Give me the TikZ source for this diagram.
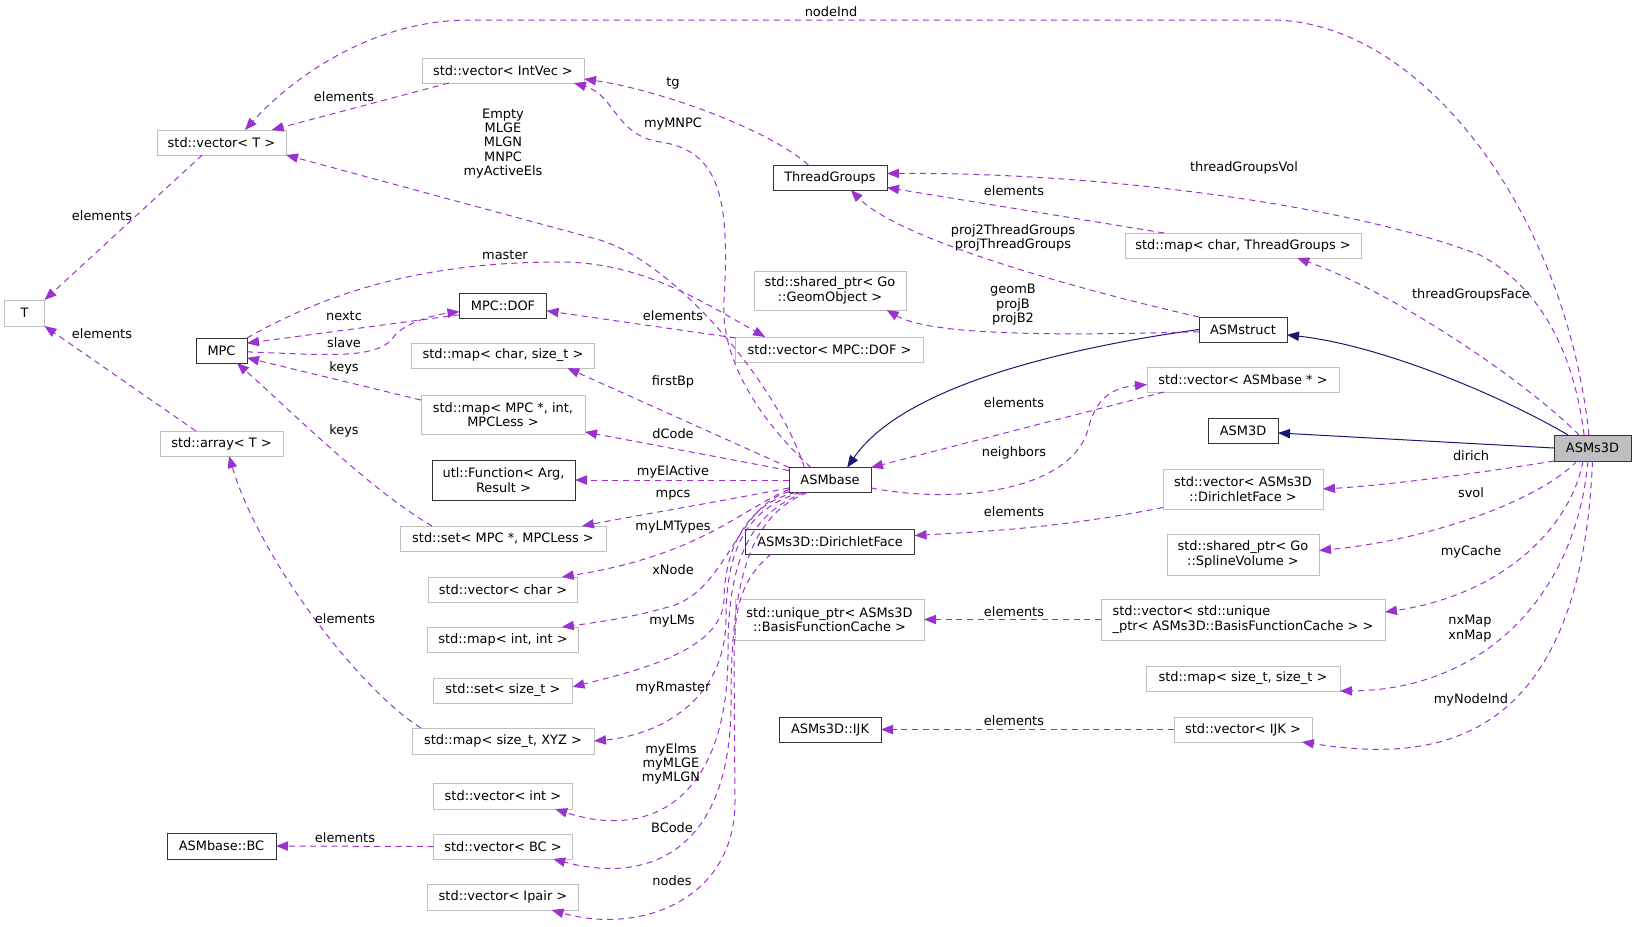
\documentclass[tikz,border=0pt]{standalone}
\usepackage{fontspec}
\setmainfont{DejaVu Sans}
\usetikzlibrary{arrows.meta}
\definecolor{edgeviolet}{HTML}{9A32CD}
\definecolor{inhblue}{HTML}{191970}
\definecolor{grey75}{HTML}{BFBFBF}
\newcommand{\dgfont}{\fontsize{9.7}{10.8}\selectfont}

\begin{document}
\begin{tikzpicture}[x=0.75pt, y=-0.75pt,
  cls/.style={draw=grey75, line width=0.75pt, fill=white, inner sep=1pt, outer sep=0pt,
    minimum height=18.75pt, align=center, font=\dgfont},
  doc/.style={cls, draw=black!80},
  boxw/.style={minimum width=#1*0.75pt},
  boxh/.style={minimum height=#1*0.75pt},
  lbl/.style={font=\dgfont, align=center, inner sep=0pt},
  memb/.style={draw=edgeviolet, line width=0.75pt, dash pattern=on 4.5pt off 3.5pt,
    -{Triangle[length=9pt,width=7pt]}},
  inh/.style={draw=inhblue, line width=0.75pt, -{Triangle[length=9pt,width=7pt]}}]
  \useasboundingbox (0,0) rectangle (1636,926);

  % Classes
  \node[cls, boxw=40, boxh=26] (t) at (24.5,313) {T};
  \node[cls, boxw=129] (vect) at (221.5,142.5) {std::vector< T >};
  \node[doc, boxw=51] (mpc) at (221.5,350.5) {MPC};
  \node[cls, boxw=123] (arrt) at (221.5,443.5) {std::array< T >};
  \node[doc, boxw=109, boxh=26] (bc) at (221.5,846) {ASMbase::BC};

  \node[cls, boxw=162] (vecintvec) at (503,70.5) {std::vector< IntVec >};
  \node[doc, boxw=87] (dof) at (503,305.5) {MPC::DOF};
  \node[cls, boxw=183] (mapcharsize) at (503,355.5) {std::map< char, size\_t >};
  \node[cls, boxw=164, boxh=39] (mapmpc) at (503,414.5) {std::map< MPC *, int,\\MPCLess >};
  \node[doc, boxw=143, boxh=40] (func) at (503.5,480) {utl::Function< Arg,\\Result >};
  \node[cls, boxw=206] (setmpc) at (503,538.5) {std::set< MPC *, MPCLess >};
  \node[cls, boxw=149] (vecchar) at (503,589.5) {std::vector< char >};
  \node[cls, boxw=151] (mapint) at (503,639.5) {std::map< int, int >};
  \node[cls, boxw=139] (setsize) at (503,690.5) {std::set< size\_t >};
  \node[cls, boxw=182, boxh=26] (mapxyz) at (503,741) {std::map< size\_t, XYZ >};
  \node[cls, boxw=139, boxh=26] (vecint) at (503,796) {std::vector< int >};
  \node[cls, boxw=139] (vecbc) at (503,846.5) {std::vector< BC >};
  \node[cls, boxw=151, boxh=26] (vecipair) at (503,897) {std::vector< Ipair >};

  \node[doc, boxw=114] (tgroups) at (830,177.5) {ThreadGroups};
  \node[cls, boxw=152, boxh=39] (geomobj) at (830,290.5) {std::shared\_ptr< Go\\::GeomObject >};
  \node[cls, boxw=188] (vecdof) at (829.5,349.5) {std::vector< MPC::DOF >};
  \node[doc, boxw=82] (asmbase) at (830,480) {ASMbase};
  \node[doc, boxw=169] (dface) at (830,541.5) {ASMs3D::DirichletFace};
  \node[cls, boxw=189, boxh=41] (uptr) at (829.5,619.5) {std::unique\_ptr< ASMs3D\\::BasisFunctionCache >};
  \node[doc, boxw=102] (ijk) at (830,729.5) {ASMs3D::IJK};

  \node[cls, boxw=236] (maptg) at (1243,245.5) {std::map< char, ThreadGroups >};
  \node[doc, boxw=88] (asmstruct) at (1243,329.5) {ASMstruct};
  \node[cls, boxw=192] (vecbase) at (1243,379.5) {std::vector< ASMbase * >};
  \node[doc, boxw=70] (asm3d) at (1243,430.5) {ASM3D};
  \node[cls, boxw=160, boxh=40] (vecdface) at (1243,489) {std::vector< ASMs3D\\::DirichletFace >};
  \node[cls, boxw=152, boxh=41] (splvol) at (1243,554.5) {std::shared\_ptr< Go\\::SplineVolume >};
  \node[cls, boxw=284, boxh=41, align=left] (vecuptr) at (1243,619.5) {std::vector< std::unique\\\_ptr< ASMs3D::BasisFunctionCache > >};
  \node[cls, boxw=194] (mapsize) at (1243,678.5) {std::map< size\_t, size\_t >};
  \node[cls, boxw=138] (vecijk) at (1243,729.5) {std::vector< IJK >};

  \node[doc, fill=grey75, boxw=77, boxh=26] (asms3d) at (1592.5,448) {ASMs3D};

  % Inheritance
  \draw[inh] (asmstruct.west) .. controls (1050,350) and (900,390) .. (asmbase.36);
  \draw[inh] (asms3d.152) .. controls (1500,395) and (1380,345) .. (asmstruct.353);
  \draw[inh] (asms3d.west) -- (asm3d.356);

  % Members
  \draw[memb] (asms3d.105) .. controls (1565,210) and (1420,20) .. (1271,20) -- (470,20)
    .. controls (370,20) and (290,80) .. (vect.28);
  \draw[memb] (vecintvec.193) -- (vect.14);
  \draw[memb] (vect.213) -- (t.north east);
  \draw[memb] (arrt.154) -- (t.south east);
  \draw[memb] (asmbase.154) .. controls (780,390) and (680,265) .. (600,240) -- (vect.south east);
  \draw[memb] (tgroups.150) .. controls (770,130) and (660,90) .. (vecintvec.354);
  \draw[memb] (asmbase.147) .. controls (760,420) and (720,360) .. (724,300)
    .. controls (730,200) and (720,150) .. (660,142) .. controls (615,135) and (615,95) .. (vecintvec.350);
  \draw[memb] (asms3d.123) .. controls (1575,360) and (1545,290) .. (1480,255)
    .. controls (1350,205) and (1100,172) .. (tgroups.4);
  \draw[memb] (maptg.171) -- (tgroups.350);
  \draw[memb] (asmstruct.north west) .. controls (1080,290) and (900,240) .. (tgroups.329);
  \draw[memb] (asms3d.136) .. controls (1530,385) and (1400,295) .. (maptg.347);
  \draw[memb] (asmstruct.183) .. controls (1050,336) and (930,335) .. (geomobj.341);

  \draw[memb] (mpc.357) .. controls (330,355) and (380,360) .. (395,335)
    .. controls (410,320) and (440,314) .. (dof.188);
  \draw[memb] (dof.192) -- (mpc.16);
  \draw[memb] (mpc.north east) .. controls (340,285) and (440,262) .. (560,262)
    .. controls (640,262) and (700,300) .. (vecdof.169);
  \draw[memb] (vecdof.173) -- (dof.353);
  \draw[memb] (mapmpc.170) -- (mpc.344);
  \draw[memb] (setmpc.170) .. controls (370,490) and (290,410) .. (mpc.321);

  \draw[memb] (asmbase.north west) -- (mapcharsize.349);
  \draw[memb] (asmbase.167) -- (mapmpc.348);
  \draw[memb] (asmbase.west) -- (func.east);
  \draw[memb] (asmbase.191) .. controls (700,505) and (640,515) .. (setmpc.9);
  \draw[memb] (asmbase.193) .. controls (740,510) and (700,555) .. (vecchar.12);
  \draw[memb] (asmbase.196) .. controls (738,505) and (728,585) .. (675,605)
    .. controls (635,617) and (600,622) .. (mapint.12);
  \draw[memb] (asmbase.200) .. controls (740,505) and (724,560) .. (724,600)
    .. controls (722,650) and (640,670) .. (setsize.3);
  \draw[memb] (asmbase.203) .. controls (740,510) and (726,560) .. (726,620)
    .. controls (725,700) and (660,735) .. (mapxyz.east);
  \draw[memb] (asmbase.206) .. controls (745,515) and (728,570) .. (728,650)
    .. controls (729,800) and (650,840) .. (vecint.346);
  \draw[memb] (asmbase.209) .. controls (750,515) and (731,580) .. (731,700)
    .. controls (732,850) and (650,885) .. (vecbc.346);
  \draw[memb] (dface.192) .. controls (740,580) and (734,610) .. (734,660) -- (735,800)
    .. controls (736,900) and (640,935) .. (vecipair.345);
  \draw[memb] (mapxyz.171) .. controls (360,690) and (260,560) .. (arrt.301);
  \draw[memb] (vecbc.west) -- (bc.east);

  \draw[memb] (asmbase.349) .. controls (960,505) and (1070,490) .. (1088,430)
    .. controls (1095,400) and (1110,388) .. (vecbase.183);
  \draw[memb] (vecbase.189) -- (asmbase.north east);

  \draw[memb] (asms3d.south west) .. controls (1480,473) and (1390,485) .. (vecdface.east);
  \draw[memb] (vecdface.193) .. controls (1050,530) and (970,532) .. (dface.4);
  \draw[memb] (asms3d.220) .. controls (1540,500) and (1430,540) .. (splvol.3);
  \draw[memb] (asms3d.234) .. controls (1570,530) and (1500,595) .. (vecuptr.3);
  \draw[memb] (vecuptr.west) -- (uptr.east);
  \draw[memb] (asms3d.251) .. controls (1575,600) and (1480,690) .. (mapsize.south east);
  \draw[memb] (asms3d.south) .. controls (1580,760) and (1420,760) .. (vecijk.348);
  \draw[memb] (vecijk.west) -- (ijk.east);

  % Labels
  \node[lbl] (lnodeind) at (831,12) {nodeInd};
  \node[lbl] (lelvt) at (344,97) {elements};
  \node[lbl] (ltg) at (673,83) {tg};
  \node[lbl] (lmnpc) at (673,124) {myMNPC};
  \node[lbl] (lempty) at (503,143.5) {Empty\\MLGE\\MLGN\\MNPC\\myActiveEls};
  \node[lbl] (ltgvol) at (1244,168) {threadGroupsVol};
  \node[lbl] (leltg) at (1014,191) {elements};
  \node[lbl] (lelt1) at (102,216) {elements};
  \node[lbl] (lproj) at (1013,238) {proj2ThreadGroups\\projThreadGroups};
  \node[lbl] (lmaster) at (505,255) {master};
  \node[lbl] (lgeom) at (1013,305) {geomB\\projB\\projB2};
  \node[lbl] (ltgface) at (1471,295) {threadGroupsFace};
  \node[lbl] (lnextc) at (344,316) {nextc};
  \node[lbl] (leldof) at (673,316) {elements};
  \node[lbl] (lelt2) at (102,334) {elements};
  \node[lbl] (lslave) at (344,343) {slave};
  \node[lbl] (lkeys1) at (344,368) {keys};
  \node[lbl] (lfirstbp) at (673,382) {firstBp};
  \node[lbl] (lelbase) at (1014,403) {elements};
  \node[lbl] (lkeys2) at (344,431) {keys};
  \node[lbl] (ldcode) at (673,434) {dCode};
  \node[lbl] (lneigh) at (1014,453) {neighbors};
  \node[lbl] (ldirich) at (1471,456) {dirich};
  \node[lbl] (lelact) at (673,472) {myElActive};
  \node[lbl] (lmpcs) at (673,495) {mpcs};
  \node[lbl] (lsvol) at (1471,493) {svol};
  \node[lbl] (lelface) at (1014,512) {elements};
  \node[lbl] (llmtypes) at (673,527) {myLMTypes};
  \node[lbl] (lcache) at (1471,552) {myCache};
  \node[lbl] (lxnode) at (673,570) {xNode};
  \node[lbl] (leluptr) at (1014,612) {elements};
  \node[lbl] (lelarr) at (345,619) {elements};
  \node[lbl] (llms) at (672,621) {myLMs};
  \node[lbl] (lnxmap) at (1470,628.5) {nxMap\\xnMap};
  \node[lbl] (lrmaster) at (673,688) {myRmaster};
  \node[lbl] (lnodeind2) at (1471,700) {myNodeInd};
  \node[lbl] (lelijk) at (1014,721) {elements};
  \node[lbl] (lelms) at (671,764) {myElms\\myMLGE\\myMLGN};
  \node[lbl] (lbcode) at (672,828) {BCode};
  \node[lbl] (lelbc) at (345,838) {elements};
  \node[lbl] (lnodes) at (672,881) {nodes};
\end{tikzpicture}
\end{document}
